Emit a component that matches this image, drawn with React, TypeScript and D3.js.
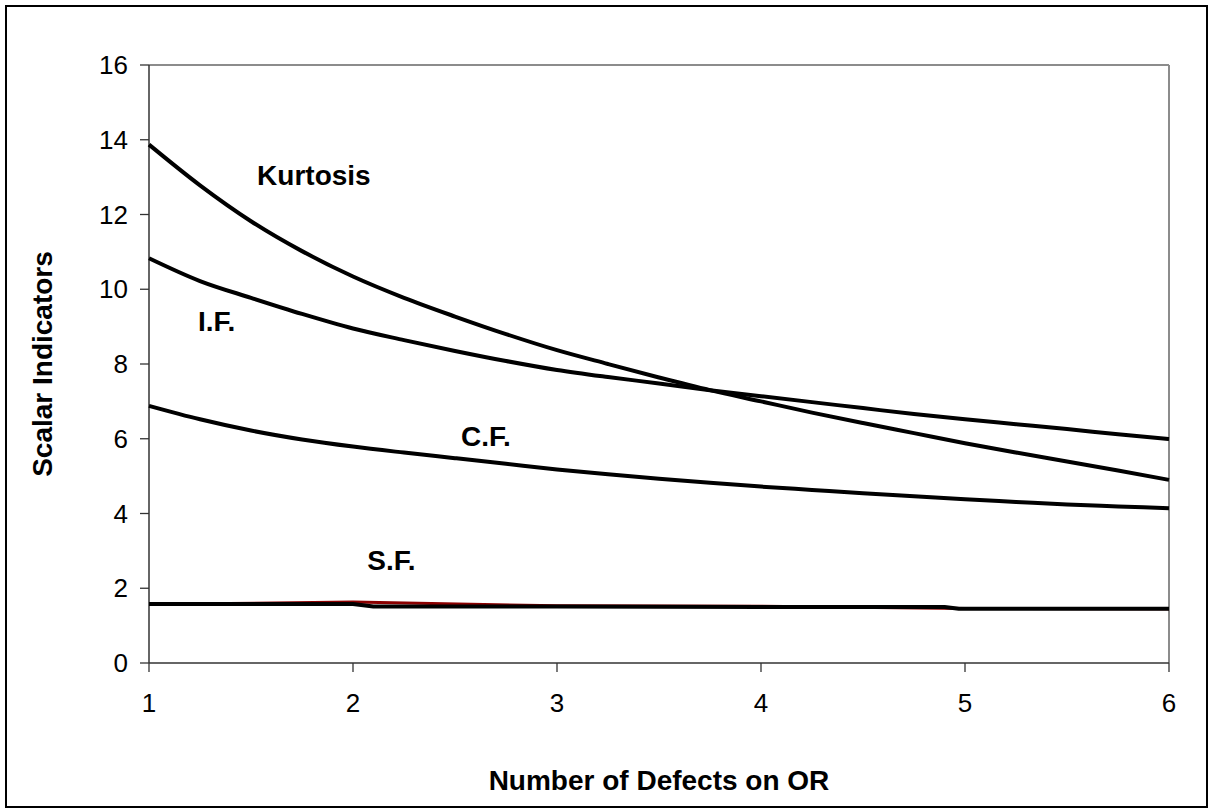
import React from "react";
import * as d3 from "d3";

const xValues = [1, 1.25, 1.5, 1.75, 2, 2.25, 2.5, 2.75, 3, 3.25, 3.5, 3.75, 4, 4.25, 4.5, 4.75, 5, 5.25, 5.5, 5.75, 6];
const kurtosis = [13.87, 12.78, 11.82, 11.02, 10.34, 9.77, 9.27, 8.8, 8.37, 8.0, 7.64, 7.3, 7.0, 6.7, 6.42, 6.15, 5.88, 5.63, 5.39, 5.15, 4.9];
const impulseFactor = [10.83, 10.22, 9.77, 9.34, 8.95, 8.64, 8.35, 8.08, 7.84, 7.65, 7.48, 7.3, 7.14, 6.98, 6.82, 6.66, 6.52, 6.39, 6.26, 6.12, 5.99];
const crestFactor = [6.88, 6.52, 6.22, 5.98, 5.79, 5.63, 5.48, 5.33, 5.18, 5.05, 4.93, 4.82, 4.72, 4.63, 4.54, 4.46, 4.38, 4.31, 4.24, 4.19, 4.14];
const shapeX = [1, 2, 2.1, 3, 4, 4.9, 4.97, 6];
const shapeFactor = [1.58, 1.58, 1.51, 1.51, 1.5, 1.5, 1.45, 1.45];
const shapeRedX = [1, 2, 3, 4, 5, 6];
const shapeRed = [1.57, 1.63, 1.53, 1.52, 1.46, 1.45];

const xTicks = [1, 2, 3, 4, 5, 6];
const yTicks = [0, 2, 4, 6, 8, 10, 12, 14, 16];

const labels = [
  { text: "Kurtosis", x: 1.53, y: 12.8 },
  { text: "I.F.", x: 1.24, y: 8.88 },
  { text: "C.F.", x: 2.53, y: 5.8 },
  { text: "S.F.", x: 2.07, y: 2.5 },
];

const FONT = "'Liberation Sans', Arial, Helvetica, sans-serif";

export default function App() {
  const W = 1212;
  const H = 811;
  const left = 149, right = 1169, top = 65, bottom = 663;
  const x = d3.scaleLinear().domain([1, 6]).range([left, right]);
  const y = d3.scaleLinear().domain([0, 16]).range([bottom, top]);

  const smooth = d3
    .line<[number, number]>()
    .x((d) => x(d[0]))
    .y((d) => y(d[1]))
    .curve(d3.curveMonotoneX);
  const straight = d3
    .line<[number, number]>()
    .x((d) => x(d[0]))
    .y((d) => y(d[1]));

  const mk = (xs: number[], ys: number[]) => xs.map((v, i) => [v, ys[i]] as [number, number]);

  const smoothSeries = [
    mk(xValues, kurtosis),
    mk(xValues, impulseFactor),
    mk(xValues, crestFactor),
  ];

  return (
    <div style={{ position: "absolute", left: 0, top: 0 }}>
      <svg width={W} height={H} style={{ display: "block", background: "#fff" }}>
        <rect x={6} y={6} width={1201} height={801} fill="#fff" stroke="#000" strokeWidth={2} />
        <line x1={left} x2={right} y1={top} y2={top} stroke="#8c8c8c" strokeWidth={2} />
        <line x1={right} x2={right} y1={top} y2={bottom} stroke="#8c8c8c" strokeWidth={2} />
        <line x1={left} x2={left} y1={top} y2={bottom} stroke="#333" strokeWidth={1.5} />
        <line x1={left} x2={right} y1={bottom} y2={bottom} stroke="#333" strokeWidth={1.5} />
        {yTicks.map((t) => (
          <g key={"y" + t}>
            <line x1={left - 9} x2={left} y1={y(t)} y2={y(t)} stroke="#333" strokeWidth={1.3} />
            <text x={128} y={y(t)} dy="0.35em" textAnchor="end" fontFamily={FONT} fontSize={26} fill="#000">
              {t}
            </text>
          </g>
        ))}
        {xTicks.map((t) => (
          <g key={"x" + t}>
            <line x1={x(t)} x2={x(t)} y1={bottom} y2={bottom + 9} stroke="#333" strokeWidth={1.3} />
            <text x={x(t)} y={712} textAnchor="middle" fontFamily={FONT} fontSize={26} fill="#000">
              {t}
            </text>
          </g>
        ))}
        <path d={straight(mk(shapeRedX, shapeRed)) || ""} fill="none" stroke="#8b0000" strokeWidth={3} />
        {smoothSeries.map((s, i) => (
          <path key={i} d={smooth(s) || ""} fill="none" stroke="#000" strokeWidth={4} strokeLinejoin="round" />
        ))}
        <path d={straight(mk(shapeX, shapeFactor)) || ""} fill="none" stroke="#000" strokeWidth={4} strokeLinejoin="round" />
        {labels.map((l) => (
          <text key={l.text} x={x(l.x)} y={y(l.y)} fontFamily={FONT} fontSize={28} fontWeight="bold" fill="#000">
            {l.text}
          </text>
        ))}
        <text x={(left + right) / 2} y={790} textAnchor="middle" fontFamily={FONT} fontSize={28} fontWeight="bold" fill="#000">
          Number of Defects on OR
        </text>
        <text
          transform={`translate(52, ${(top + bottom) / 2}) rotate(-90)`}
          textAnchor="middle"
          fontFamily={FONT}
          fontSize={28}
          fontWeight="bold"
          fill="#000"
        >
          Scalar Indicators
        </text>
      </svg>
    </div>
  );
}
